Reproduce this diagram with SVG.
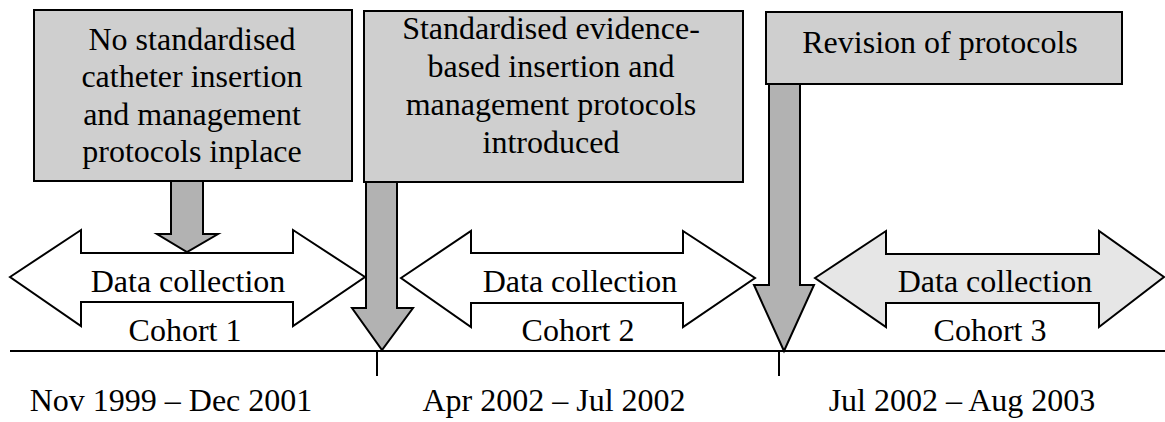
<svg xmlns="http://www.w3.org/2000/svg" width="1165" height="422" viewBox="0 0 1165 422" font-family="'Liberation Serif', 'DejaVu Serif', serif">
<style>
text{font-family:'Liberation Serif','DejaVu Serif',serif;font-size:32px;fill:#000;text-anchor:middle}
.box{fill:#cfcfcf;stroke:#000;stroke-width:2}
.down{fill:#b2b2b2;stroke:#000;stroke-width:2;stroke-linejoin:miter}
.dbl{fill:#fff;stroke:#000;stroke-width:2}
.dbl3{fill:#e6e6e6;stroke:#000;stroke-width:2}
.axis{stroke:#000;stroke-width:2;fill:none}
</style>
<rect width="1165" height="422" fill="#fff"/>
<g id="timeline">
<line class="axis" x1="10" y1="351" x2="1165" y2="351"/>
<line class="axis" x1="377" y1="351" x2="377" y2="376"/>
<line class="axis" x1="779" y1="351" x2="779" y2="376"/>
</g>
<g id="cohort1">
<polygon class="dbl" points="10,277 81,230 81,253 293,253 293,230 365,277 293,326 293,302 81,302 81,326"/>
<text x="188" y="292">Data collection</text>
<text x="185" y="341">Cohort 1</text>
</g>
<g id="cohort2">
<polygon class="dbl" points="401,278 471,231 471,253 683,253 683,231 755,278 683,327 683,303 471,303 471,327"/>
<text x="580" y="292">Data collection</text>
<text x="578" y="341">Cohort 2</text>
</g>
<g id="cohort3">
<polygon class="dbl3" points="815,278 886,231 886,254 1099,254 1099,231 1164,277 1099,327 1099,303 886,303 886,327"/>
<text x="995" y="292">Data collection</text>
<text x="990" y="341">Cohort 3</text>
</g>
<g id="connectors">
<polygon class="down" points="171,181 203,181 203,234 218,234 187,252 157,234 171,234"/>
<polygon class="down" points="366,182 397,182 397,308 413,308 382,350 352,308 366,308"/>
<polygon class="down" points="769,84 800,84 800,285 814,285 784,351 754,285 769,285"/>
</g>
<g id="box1">
<rect class="box" x="34" y="10" width="318" height="171"/>
<text x="192" y="50">No standardised</text>
<text x="192" y="87">catheter insertion</text>
<text x="192" y="125">and management</text>
<text x="192" y="162">protocols inplace</text>
</g>
<g id="box2">
<rect class="box" x="364" y="11" width="379" height="171"/>
<text x="551" y="39">Standardised evidence-</text>
<text x="551" y="77">based insertion and</text>
<text x="551" y="115">management protocols</text>
<text x="551" y="153">introduced</text>
</g>
<g id="box3">
<rect class="box" x="766" y="12" width="356" height="72"/>
<text x="940" y="53">Revision of protocols</text>
</g>
<g id="dates">
<text x="171" y="411">Nov 1999 – Dec 2001</text>
<text x="554" y="411">Apr 2002 – Jul 2002</text>
<text x="962" y="411">Jul 2002 – Aug 2003</text>
</g>
</svg>
